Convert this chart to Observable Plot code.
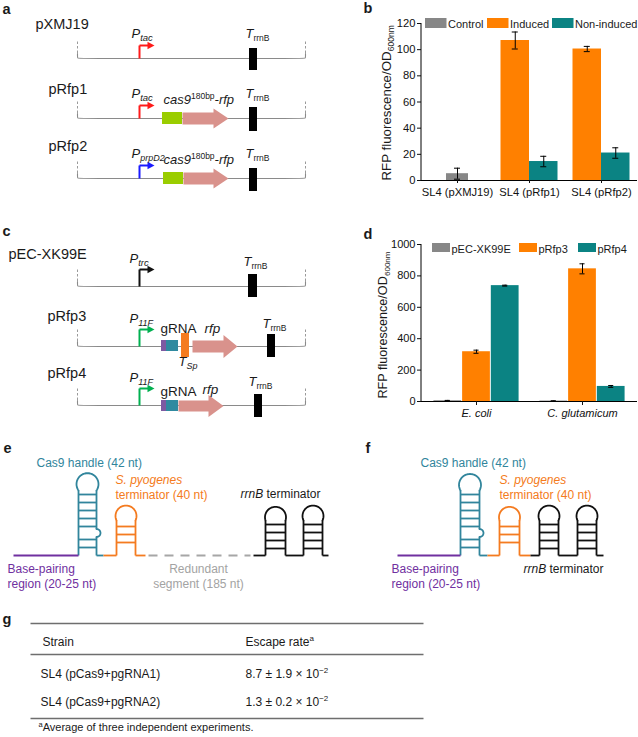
<!DOCTYPE html>
<html><head><meta charset="utf-8">
<script src="https://cdn.jsdelivr.net/npm/d3@7"></script>
<script src="https://cdn.jsdelivr.net/npm/@observablehq/plot@0.6"></script>
<style>
body{margin:0;background:#fff}
#fig{position:relative;width:638px;height:737px;overflow:hidden;background:#fff}
#fig > svg{position:absolute}
</style></head><body><div id="fig"></div>
<script>
const FONT = '"Liberation Sans", Arial, Helvetica, sans-serif';

// ---------------- Panel b data ----------------
const groupsB = ["SL4 (pXMJ19)", "SL4 (pRfp1)", "SL4 (pRfp2)"];
const seriesB = ["Control", "Induced", "Non-induced"];
const controlB = [5.2, null, null];
const controlErrB = [4.2, null, null];
const inducedB = [null, 107, 100.5];
const inducedErrB = [null, 6.5, 2];
const nonInducedB = [null, 14.5, 21];
const nonInducedErrB = [null, 4, 4];
const yTicksB = [0, 20, 40, 60, 80, 100, 120];

// ---------------- Panel d data ----------------
const groupsD = ["E. coli", "C. glutamicum"];
const seriesD = ["pEC-XK99E", "pRfp3", "pRfp4"];
const pECXK99ED = [5, 3];
const pECXK99EErrD = [2, 1.5];
const pRfp3D = [317, 845];
const pRfp3ErrD = [10, 32];
const pRfp4D = [738, 96];
const pRfp4ErrD = [3, 6];
const yTicksD = [0, 200, 400, 600, 800, 1000];

// ---------------- Panel g table ----------------
const tableHeader = ["Strain", "Escape rate"];
const strains = ["SL4 (pCas9+pgRNA1)", "SL4 (pCas9+pgRNA2)"];
const escapeMean = ["8.7", "1.3"];
const escapeSD = ["1.9", "0.2"];
const escapeExp = ["\u22122", "\u22122"];
const footnote = "Average of three independent experiments.";

// ---------------- colours ----------------
const barColors = ["#878787", "#ff8000", "#0b8383"];
const INK = "#1a1a1a", TEAL = "#31859c", ORANGE = "#f47b20", PURPLE = "#7030a0", GREYTXT = "#a3a3a3";
const PINK = "#d9928c", LIME = "#9acd00", PBLOCK = "#7e5aa2", TBLOCK = "#2f8aa0";

// ================= rich text helper =================
const ctx = document.createElement("canvas").getContext("2d");
function tw(t, s, i, b) { ctx.font = `${i ? "italic " : ""}${b ? "bold " : ""}${s}px ${FONT}`; return ctx.measureText(t).width; }
const labels = [];
function rich(x, y, parts, o = {}) {
  const w = parts.map(p => tw(p.t, p.s, p.i, p.b));
  let pos = o.anchor === "middle" ? -d3.sum(w) / 2 : 0;
  const rot = o.rotate || 0;
  parts.forEach((p, k) => {
    const fill = p.fill || o.fill || INK;
    if (rot === -90) labels.push({x: x + (p.dy || 0), y: y - pos, t: p.t, s: p.s, i: !!p.i, b: !!p.b, rot, fill});
    else labels.push({x: x + pos, y: y + (p.dy || 0), t: p.t, s: p.s, i: !!p.i, b: !!p.b, rot, fill});
    pos += w[k];
  });
}
const P = (sub, s = 9.5) => [{t: "P", s: 13, i: true}, {t: sub, s, i: true, dy: 3}];
const T = (sub, it = false) => [{t: "T", s: 13, i: true}, {t: sub, s: 8.5, i: it, dy: 3}];
const CAS = [{t: "cas9", s: 13, i: true}, {t: "180bp", s: 8.5, dy: -5}, {t: "-rfp", s: 13, i: true}];

// ================= panel letters =================
[["a", 2, 13], ["b", 363, 12], ["c", 2, 235], ["d", 363, 238], ["e", 3, 452], ["f", 365, 452], ["g", 2, 623]]
  .forEach(([l, x, y]) => rich(x, y, [{t: l, s: 14.5, b: true}]));

// ================= panels a & c : plasmid maps =================
const backboneX = [77, 305];
const backbones = [58, 118, 178, 286, 346, 405];
const promoters = [
  {x: 139, base: 58, h: 13, color: "#ff1a1a"},
  {x: 139, base: 118, h: 13, color: "#ff1a1a"},
  {x: 139, base: 178, h: 13, color: "#1a1aff"},
  {x: 139, base: 286, h: 17, color: "#111111"},
  {x: 139, base: 346, h: 17, color: "#00b050"},
  {x: 139, base: 405, h: 17, color: "#00b050"}
];
const blocks = [
  {x1: 249, x2: 257, y1: 48, y2: 70, c: "#000"},
  {x1: 249, x2: 257, y1: 107, y2: 131, c: "#000"},
  {x1: 249, x2: 257, y1: 168, y2: 191, c: "#000"},
  {x1: 248, x2: 257, y1: 274, y2: 297, c: "#000"},
  {x1: 267, x2: 275, y1: 334, y2: 357, c: "#000"},
  {x1: 254, x2: 262, y1: 394, y2: 417, c: "#000"},
  {x1: 162, x2: 182, y1: 112, y2: 124, c: LIME},
  {x1: 163, x2: 183, y1: 172, y2: 184, c: LIME},
  {x1: 161, x2: 166, y1: 340, y2: 351, c: PBLOCK},
  {x1: 166, x2: 178, y1: 340, y2: 351, c: TBLOCK},
  {x1: 161, x2: 166, y1: 400, y2: 411, c: PBLOCK},
  {x1: 166, x2: 178, y1: 400, y2: 411, c: TBLOCK},
  {x1: 181, x2: 189, y1: 333, y2: 357, c: ORANGE}
];
const geneArrows = [
  {x0: 182, xh: 213, xt: 228, y: 118, b: 6, h: 10},
  {x0: 183, xh: 213, xt: 228, y: 178, b: 6, h: 10},
  {x0: 192, xh: 223, xt: 237, y: 346, b: 6, h: 11.5},
  {x0: 178, xh: 208, xt: 223, y: 405.5, b: 5.5, h: 11}
];

// labels a
rich(35, 28, [{t: "pXMJ19", s: 14.5}]);
rich(131, 37, P("tac")); rich(245, 37, T("rrnB"));
rich(48, 93, [{t: "pRfp1", s: 14.5}]);
rich(131, 97, P("tac")); rich(163, 103, CAS); rich(245, 97, T("rrnB"));
rich(48, 150, [{t: "pRfp2", s: 14.5}]);
rich(131, 157, P("prpD2", 9)); rich(163, 163, CAS); rich(245, 157, T("rrnB"));
// labels c
rich(8, 258, [{t: "pEC-XK99E", s: 14.5}]);
rich(129, 262, P("trc")); rich(243, 265, T("rrnB"));
rich(47, 320, [{t: "pRfp3", s: 14.5}]);
rich(129, 322, P("11F", 9)); rich(160, 332, [{t: "gRNA", s: 13.5}]); rich(204, 332, [{t: "rfp", s: 13.5, i: true}]);
rich(178, 365, [{t: "T", s: 13, i: true}, {t: "Sp", s: 9, i: true, dy: 3}]); rich(262, 327, T("rrnB"));
rich(47, 377, [{t: "pRfp4", s: 14.5}]);
rich(129, 381, P("11F", 9)); rich(160, 395, [{t: "gRNA", s: 13.5}]); rich(202, 393, [{t: "rfp", s: 13.5, i: true}]);
rich(248, 385, T("rrnB"));

// ================= panels e & f : RNA structures =================
const BASE = 555;
const hairpins = [
  {xl: 78, xr: 96, top: 490, r: 11, rungs: [494, 502, 510, 518, 526, 539, 547], color: TEAL, bulge: 532.5},
  {xl: 116, xr: 135, top: 520, r: 10.5, rungs: [526, 534, 542], color: ORANGE},
  {xl: 265, xr: 285, top: 520, r: 10.5, rungs: [524, 532, 540, 548], color: "#111"},
  {xl: 303, xr: 322, top: 520, r: 10.5, rungs: [524, 532, 540, 548], color: "#111"},
  {xl: 460, xr: 479, top: 490, r: 11, rungs: [494, 502, 510, 518, 526, 539, 547], color: TEAL, bulge: 532.5},
  {xl: 499, xr: 519, top: 520, r: 10.5, rungs: [526, 534, 542], color: ORANGE},
  {xl: 539, xr: 558, top: 520, r: 10.5, rungs: [524, 532, 540, 548], color: "#111"},
  {xl: 577, xr: 596, top: 520, r: 10.5, rungs: [524, 532, 540, 548], color: "#111"}
];
const strands = [
  {x1: 13, x2: 78, c: PURPLE}, {x1: 96, x2: 103, c: TEAL}, {x1: 103, x2: 116, c: ORANGE}, {x1: 135, x2: 145, c: ORANGE},
  {x1: 253, x2: 265, c: "#111"}, {x1: 285, x2: 303, c: "#111"}, {x1: 322, x2: 328, c: "#111"},
  {x1: 397, x2: 460, c: PURPLE}, {x1: 479, x2: 487, c: TEAL}, {x1: 487, x2: 499, c: ORANGE}, {x1: 519, x2: 530, c: ORANGE},
  {x1: 530, x2: 539, c: "#111"}, {x1: 558, x2: 577, c: "#111"}, {x1: 596, x2: 603, c: "#111"}
];
const redundant = [{x1: 148, x2: 250}];

// labels e
rich(36, 466, [{t: "Cas9 handle (42 nt)", s: 12, fill: TEAL}]);
rich(115, 483, [{t: "S. pyogenes", s: 12, i: true, fill: ORANGE}]);
rich(115, 498, [{t: "terminator (40 nt)", s: 12, fill: ORANGE}]);
rich(240, 497, [{t: "rrnB", s: 12, i: true}, {t: " terminator", s: 12}]);
rich(7, 572, [{t: "Base-pairing", s: 12, fill: PURPLE}]);
rich(7, 587, [{t: "region (20-25 nt)", s: 12, fill: PURPLE}]);
rich(198, 572, [{t: "Redundant", s: 12, fill: GREYTXT}], {anchor: "middle"});
rich(198, 587, [{t: "segment (185 nt)", s: 12, fill: GREYTXT}], {anchor: "middle"});
// labels f
rich(420, 466, [{t: "Cas9 handle (42 nt)", s: 12, fill: TEAL}]);
rich(499, 483, [{t: "S. pyogenes", s: 12, i: true, fill: ORANGE}]);
rich(499, 498, [{t: "terminator (40 nt)", s: 12, fill: ORANGE}]);
rich(523, 572, [{t: "rrnB", s: 12, i: true}, {t: " terminator", s: 12}]);
rich(391, 572, [{t: "Base-pairing", s: 12, fill: PURPLE}]);
rich(391, 587, [{t: "region (20-25 nt)", s: 12, fill: PURPLE}]);

// ================= panel g : table =================
const tableRules = [623, 654, 718];
rich(42, 645, [{t: tableHeader[0], s: 12}]);
rich(245, 645, [{t: tableHeader[1], s: 12}, {t: "a", s: 8, dy: -5}]);
strains.forEach((s, k) => {
  const y = 677 + k * 28;
  rich(40, y, [{t: s, s: 12}]);
  rich(245, y, [{t: `${escapeMean[k]} \u00b1 ${escapeSD[k]} \u00d7 10`, s: 12}, {t: escapeExp[k], s: 8, dy: -5}]);
});
rich(38, 730, [{t: "a", s: 7.5, dy: -4}, {t: footnote, s: 11}]);

// ================= legends & axis titles of b and d =================
const legendB = {x: [425, 487, 552], y: 18, w: 21.5, h: 10, fs: 11, base: 27};
seriesB.forEach((s, k) => rich(legendB.x[k] + legendB.w + 1, legendB.base, [{t: s, s: legendB.fs}]));
const legendD = {x: [432, 519, 578], y: 243, w: 18, h: 9, fs: 11, base: 252};
seriesD.forEach((s, k) => rich(legendD.x[k] + legendD.w + 1, legendD.base, [{t: s, s: legendD.fs}]));
const legendRects = [
  ...seriesB.map((s, k) => ({x1: legendB.x[k], x2: legendB.x[k] + legendB.w, y1: legendB.y, y2: legendB.y + legendB.h, c: barColors[k]})),
  ...seriesD.map((s, k) => ({x1: legendD.x[k], x2: legendD.x[k] + legendD.w, y1: legendD.y, y2: legendD.y + legendD.h, c: barColors[k]}))
];
rich(390, 180, [{t: "RFP fluorescence/OD", s: 13.3}, {t: "600nm", s: 8.5, dy: 3}], {rotate: -90});
rich(386, 398, [{t: "RFP fluorescence/OD", s: 12.6}, {t: "600nm", s: 8, dy: 3}], {rotate: -90});

// ================= geometry derived for the diagram layer =================
const bbLines = [], bbDash = [];
backbones.forEach((b, k) => {
  const [l, r] = backboneX, top = b - 17;
  bbDash.push({x1: l, y1: top, x2: l, y2: b - 5}, {x1: r, y1: top, x2: r, y2: b - 5});
  [[l, b - 5], [l, b - 2], [l, b], [l + 3, b], [r - 3, b], [r, b], [r, b - 2], [r, b - 5]]
    .forEach(([x, y]) => bbLines.push({id: k, x, y}));
});
const links = [], polys = [];
promoters.forEach((p, k) => {
  const ty = p.base - p.h;
  links.push({x1: p.x, y1: p.base, x2: p.x, y2: ty, c: p.color, w: 2});
  links.push({x1: p.x, y1: ty, x2: p.x + 9, y2: ty, c: p.color, w: 2});
  [[p.x + 8, ty - 3.8], [p.x + 15, ty], [p.x + 8, ty + 3.8]].forEach(([x, y]) => polys.push({id: "p" + k, x, y, c: p.color}));
});
geneArrows.forEach((a, k) => {
  [[a.x0, a.y - a.b], [a.xh, a.y - a.b], [a.xh, a.y - a.h], [a.xt, a.y], [a.xh, a.y + a.h], [a.xh, a.y + a.b], [a.x0, a.y + a.b]]
    .forEach(([x, y]) => polys.push({id: "g" + k, x, y, c: PINK}));
});
const loopPts = [];
hairpins.forEach((h, k) => {
  const cx = (h.xl + h.xr) / 2, half = (h.xr - h.xl) / 2;
  const cy = h.top - Math.sqrt(h.r * h.r - half * half);
  const a0 = Math.atan2(h.top - cy, -half), a1 = Math.atan2(h.top - cy, half) + 2 * Math.PI;
  for (let j = 0; j <= 36; j++) {
    const a = a0 + (a1 - a0) * j / 36;
    loopPts.push({id: "L" + k, x: cx + h.r * Math.cos(a), y: cy + h.r * Math.sin(a), c: h.color});
  }
  links.push({x1: h.xl, y1: BASE, x2: h.xl, y2: h.top, c: h.color, w: 1.8});
  if (h.bulge) {
    links.push({x1: h.xr, y1: h.top, x2: h.xr, y2: h.bulge - 4, c: h.color, w: 1.8});
    links.push({x1: h.xr, y1: h.bulge + 4, x2: h.xr, y2: BASE, c: h.color, w: 1.8});
    for (let j = 0; j <= 16; j++) {
      const a = -Math.PI / 2 + Math.PI * j / 16;
      loopPts.push({id: "B" + k, x: h.xr + 4 * Math.cos(a), y: h.bulge + 4 * Math.sin(a), c: h.color});
    }
  } else links.push({x1: h.xr, y1: h.top, x2: h.xr, y2: BASE, c: h.color, w: 1.8});
  h.rungs.forEach(y => links.push({x1: h.xl, y1: y, x2: h.xr, y2: y, c: h.color, w: 1.8}));
});
strands.forEach(s => links.push({x1: s.x1, y1: BASE, x2: s.x2, y2: BASE, c: s.c, w: 1.8}));
tableRules.forEach(y => links.push({x1: 30, y1: y, x2: 423, y2: y, c: "#6e6e6e", w: 1.7}));

const textMarks = d3.groups(labels, d => `${d.i}|${d.b}|${d.rot}`).map(([, items]) =>
  Plot.text(items, {
    x: "x", y: "y", text: "t", fontSize: d => d.s, fill: d => d.fill,
    fontStyle: items[0].i ? "italic" : "normal", fontWeight: items[0].b ? "bold" : "normal",
    rotate: items[0].rot, textAnchor: "start", lineAnchor: "bottom", fontFamily: FONT
  }));

const diagram = Plot.plot({
  width: 638, height: 737, margin: 0,
  x: {domain: [0, 638], range: [0, 638], axis: null},
  y: {domain: [0, 737], range: [0, 737], axis: null},
  style: {background: "transparent", overflow: "visible"},
  marks: [
    Plot.line(bbLines, {x: "x", y: "y", z: "id", stroke: "#8a8a8a", strokeWidth: 1.1, curve: "basis"}),
    Plot.link(bbDash, {x1: "x1", y1: "y1", x2: "x2", y2: "y2", stroke: "#9a9a9a", strokeWidth: 1, strokeDasharray: "2.5,2"}),
    Plot.link(redundant, {x1: "x1", y1: () => BASE, x2: "x2", y2: () => BASE, stroke: "#a6a6a6", strokeWidth: 1.8, strokeDasharray: "9,7"}),
    Plot.rect(blocks, {x1: "x1", x2: "x2", y1: "y1", y2: "y2", fill: "c"}),
    Plot.rect(legendRects, {x1: "x1", x2: "x2", y1: "y1", y2: "y2", fill: "c"}),
    Plot.line(polys, {x: "x", y: "y", z: "id", fill: "c", stroke: "none"}),
    Plot.link(links, {x1: "x1", y1: "y1", x2: "x2", y2: "y2", stroke: "c", strokeWidth: "w"}),
    Plot.line(loopPts, {x: "x", y: "y", z: "id", stroke: "c", strokeWidth: 1.8, fill: "none"}),
    ...textMarks
  ]
});
diagram.style.left = "0px"; diagram.style.top = "0px";

// ================= bar charts =================
function barChart(cfg) {
  const {groups, series, values, errs, ticks, width, height, mt, mb, ml, mr, padOuter, barW, offsets, italic, fs, tickSize, tickPadding} = cfg;
  const bw = (width - ml - mr) / (groups.length + 2 * padOuter);
  const marks = [];
  series.forEach((s, k) => {
    const rows = groups.map((g, i) => ({group: g, series: s, value: values[k][i], err: errs[k][i]})).filter(d => d.value != null);
    const o = offsets[k], w = barW[k];
    marks.push(Plot.barY(rows, {x: "group", y: "value", fill: barColors[k], insetLeft: bw / 2 + o - w / 2, insetRight: bw / 2 - o - w / 2}));
    marks.push(Plot.ruleX(rows, {x: "group", y1: d => d.value - d.err, y2: d => d.value + d.err, dx: o, stroke: "#000", strokeWidth: 1}));
    const cap = {x: "group", insetLeft: bw / 2 + o - 3, insetRight: bw / 2 - o - 3, stroke: "#000", strokeWidth: 1};
    marks.push(Plot.tickY(rows, {...cap, y: d => d.value + d.err}));
    marks.push(Plot.tickY(rows, {...cap, y: d => d.value - d.err}));
  });
  marks.push(Plot.ruleY([0], {stroke: "#000", strokeWidth: 1}));
  marks.push(Plot.axisX({tickSize, tickPadding, fontStyle: italic ? "italic" : "normal", label: null}));
  marks.push(Plot.axisY({ticks, tickFormat: "d", tickSize: 4, tickPadding: 2, label: null}));
  const svg = Plot.plot({
    width, height, marginTop: mt, marginBottom: mb, marginLeft: ml, marginRight: mr,
    x: {domain: groups, paddingInner: 0, paddingOuter: padOuter},
    y: {domain: [0, ticks[ticks.length - 1]]},
    style: {fontFamily: FONT, fontSize: fs + "px", color: "#111", background: "transparent", overflow: "visible"},
    marks
  });
  d3.select(svg).append("line").attr("x1", ml).attr("x2", ml).attr("y1", mt).attr("y2", height - mb)
    .attr("stroke", "#000").attr("stroke-width", 1);
  return svg;
}

const chartB = barChart({
  groups: groupsB, series: seriesB,
  values: [controlB, inducedB, nonInducedB], errs: [controlErrB, inducedErrB, nonInducedErrB],
  ticks: yTicksB, width: 308, height: 200, mt: 23, mb: 20, ml: 91, mr: 1, padOuter: 0,
  barW: [22, 28.5, 28.5], offsets: [0, -14.25, 14.25], italic: false, fs: 11.2, tickSize: 3, tickPadding: 5
});
chartB.style.left = "330px"; chartB.style.top = "0px";

const chartD = barChart({
  groups: groupsD, series: seriesD,
  values: [pECXK99ED, pRfp3D, pRfp4D], errs: [pECXK99EErrD, pRfp3ErrD, pRfp4ErrD],
  ticks: yTicksD, width: 308, height: 210, mt: 24, mb: 29, ml: 91, mr: 1, padOuter: 0.01,
  barW: [28.7, 28.7, 28.7], offsets: [-28.7, 0, 28.7], italic: true, fs: 11, tickSize: 4, tickPadding: 4
});
chartD.style.left = "330px"; chartD.style.top = "220px";

const fig = document.getElementById("fig");
fig.append(diagram, chartB, chartD);
</script></body></html>
